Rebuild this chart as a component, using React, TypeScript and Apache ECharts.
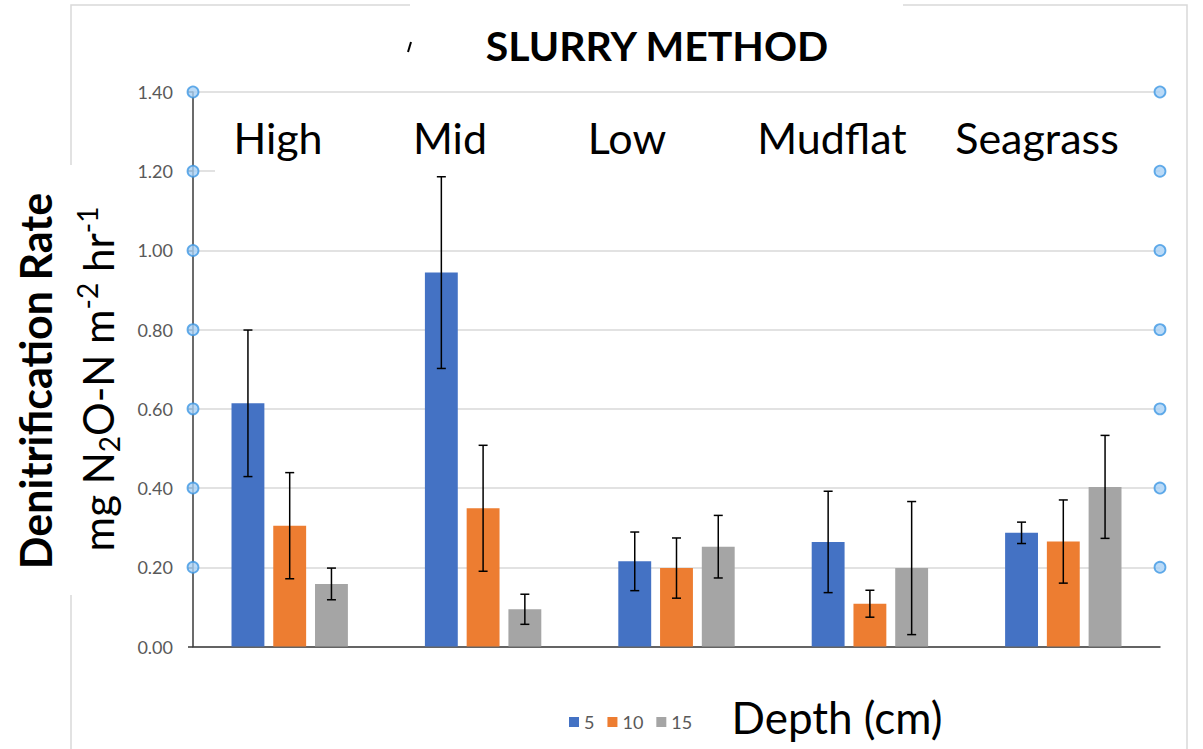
import React, { useEffect, useRef } from "react";
import * as echarts from "echarts";

const categories = ["High", "Mid", "Low", "Mudflat", "Seagrass"];
const depthNames = ["5", "10", "15"];
const depth5 = [0.614, 0.944, 0.215, 0.264, 0.287];
const depth10 = [0.305, 0.349, 0.198, 0.108, 0.265];
const depth15 = [0.158, 0.094, 0.252, 0.198, 0.403];
const err5 = [0.185, 0.242, 0.074, 0.128, 0.027];
const err10 = [0.134, 0.159, 0.076, 0.034, 0.105];
const err15 = [0.04, 0.038, 0.079, 0.168, 0.13];
const handleTicks = [0.2, 0.4, 0.6, 0.8, 1.0, 1.2, 1.4];

const colors = ["#4472C4", "#ED7D31", "#A5A5A5"];
const FONT = "Lato, 'Open Sans', sans-serif";
const BAR_W = 0.17;
const BAR_GAP = 0.27;

export default function App() {
  const ref = useRef<HTMLDivElement>(null);
  useEffect(() => {
    if (!ref.current) return;
    const chart = echarts.init(ref.current, null, { renderer: "svg" });
    const values = [depth5, depth10, depth15];
    const errs = [err5, err10, err15];

    const barSeries = values.map((v, i) => ({
      name: depthNames[i],
      type: "bar",
      data: v,
      barWidth: BAR_W * 100 + "%",
      barGap: BAR_GAP * 100 + "%",
      itemStyle: { color: colors[i] },
      z: 2,
    }));

    const errSeries = values.map((v, i) => ({
      name: "err" + depthNames[i],
      type: "custom",
      data: v.map((val, k) => [k, val - errs[i][k], val + errs[i][k]]),
      encode: { x: 0, y: [1, 2] },
      z: 5,
      renderItem: (params: any, api: any) => {
        const k = api.value(0);
        const lo = api.coord([k, api.value(1)]);
        const hi = api.coord([k, api.value(2)]);
        const band = api.size([1, 0])[0];
        const w = BAR_W * band;
        const off = (i - 1) * (w + BAR_GAP * w);
        const x = lo[0] + off;
        const cap = 4.5;
        const style = { stroke: "#000", lineWidth: 1.5 };
        return {
          type: "group",
          children: [
            { type: "line", shape: { x1: x, y1: lo[1], x2: x, y2: hi[1] }, style },
            { type: "line", shape: { x1: x - cap, y1: hi[1], x2: x + cap, y2: hi[1] }, style },
            { type: "line", shape: { x1: x - cap, y1: lo[1], x2: x + cap, y2: lo[1] }, style },
          ],
        };
      },
    }));

    const handleData: number[][] = [];
    handleTicks.forEach((t) => {
      handleData.push([0, t]);
      handleData.push([1, t]);
    });

    const catLabelPos = [278, 450, 627, 832, 1037];

    chart.setOption({
      animation: false,
      backgroundColor: "#ffffff",
      grid: { left: 193, right: 43, top: 92, bottom: 102.5, containLabel: false },
      legend: {
        data: depthNames,
        left: 564,
        top: 708,
        icon: "rect",
        itemWidth: 10,
        itemHeight: 10,
        itemGap: 13,
        textStyle: { fontFamily: FONT, fontSize: 18, color: "#595959" },
      },
      xAxis: [
        {
          type: "category",
          data: categories,
          axisLine: { show: true, lineStyle: { color: "#3a3a3a", width: 1.5 } },
          axisTick: { show: false },
          axisLabel: { show: false },
        },
        {
          type: "value",
          min: 0,
          max: 1,
          show: false,
        },
      ],
      yAxis: {
        type: "value",
        min: 0,
        max: 1.4,
        interval: 0.2,
        axisLine: { show: true, lineStyle: { color: "#3a3a3a", width: 1.5 } },
        axisTick: { show: true, length: 5, lineStyle: { color: "#3a3a3a", width: 1.5 } },
        axisLabel: {
          formatter: (v: number) => v.toFixed(2),
          fontFamily: FONT,
          fontSize: 18,
          color: "#595959",
          margin: 20,
        },
        splitLine: { lineStyle: { color: "#d9d9d9", width: 1.5 } },
      },
      series: [
        ...barSeries,
        ...errSeries,
        {
          name: "handles",
          type: "scatter",
          xAxisIndex: 1,
          data: handleData,
          symbol: "circle",
          symbolSize: 11,
          itemStyle: { color: "#a9d1f5", borderColor: "#3d97e3", borderWidth: 1.8 },
          z: 10,
          silent: true,
        },
      ],
      graphic: [
        {
          type: "rect",
          z: 0,
          shape: { x: 71, y: 5, width: 1116, height: 760 },
          style: { fill: "none", stroke: "#d9d9d9", lineWidth: 1.5 },
        },
        { type: "rect", z: 1, shape: { x: 410, y: 0, width: 493, height: 25 }, style: { fill: "#fff" } },
        { type: "rect", z: 1, shape: { x: 0, y: 165, width: 125, height: 430 }, style: { fill: "#fff" } },
        { type: "rect", z: 1, shape: { x: 215, y: 100, width: 940, height: 74 }, style: { fill: "#fff" } },
        { type: "line", z: 3, shape: { x1: 408, y1: 52, x2: 411, y2: 42 }, style: { stroke: "#000", lineWidth: 2 } },
        {
          type: "text",
          z: 3,
          x: 657,
          y: 45,
          style: {
            text: "SLURRY METHOD",
            font: `bold 41px ${FONT}`,
            fill: "#000",
            textAlign: "center",
            textVerticalAlign: "middle",
          },
        },
        ...categories.map((c, i) => ({
          type: "text",
          z: 3,
          x: catLabelPos[i],
          y: 137,
          style: {
            text: c,
            font: `43px ${FONT}`,
            fill: "#000",
            textAlign: "center",
            textVerticalAlign: "middle",
          },
        })),
        {
          type: "text",
          z: 3,
          x: 837,
          y: 717,
          style: {
            text: "Depth (cm)",
            font: `44px ${FONT}`,
            fill: "#000",
            textAlign: "center",
            textVerticalAlign: "middle",
          },
        },
        {
          type: "text",
          z: 3,
          x: 35,
          y: 381,
          rotation: Math.PI / 2,
          style: {
            text: "Denitrification Rate",
            font: `bold 43px ${FONT}`,
            fill: "#000",
            textAlign: "center",
            textVerticalAlign: "middle",
          },
        },
        {
          type: "text",
          z: 3,
          x: 98,
          y: 379,
          rotation: Math.PI / 2,
          style: {
            text: "{a|mg N}{sub|2}{a|O-N m}{sup|-2}{a| hr}{sup|-1}",
            textAlign: "center",
            textVerticalAlign: "middle",
            rich: {
              a: { fontFamily: FONT, fontSize: 42, fill: "#000", lineHeight: 50, verticalAlign: "middle" },
              sub: { fontFamily: FONT, fontSize: 28, fill: "#000", lineHeight: 50, verticalAlign: "bottom" },
              sup: { fontFamily: FONT, fontSize: 28, fill: "#000", lineHeight: 50, verticalAlign: "top" },
            },
          },
        },
      ],
    });
    return () => chart.dispose();
  }, []);
  return (
    <div
      ref={ref}
      style={{ position: "fixed", left: 0, top: 0, width: 1203, height: 749, background: "#fff" }}
    />
  );
}
